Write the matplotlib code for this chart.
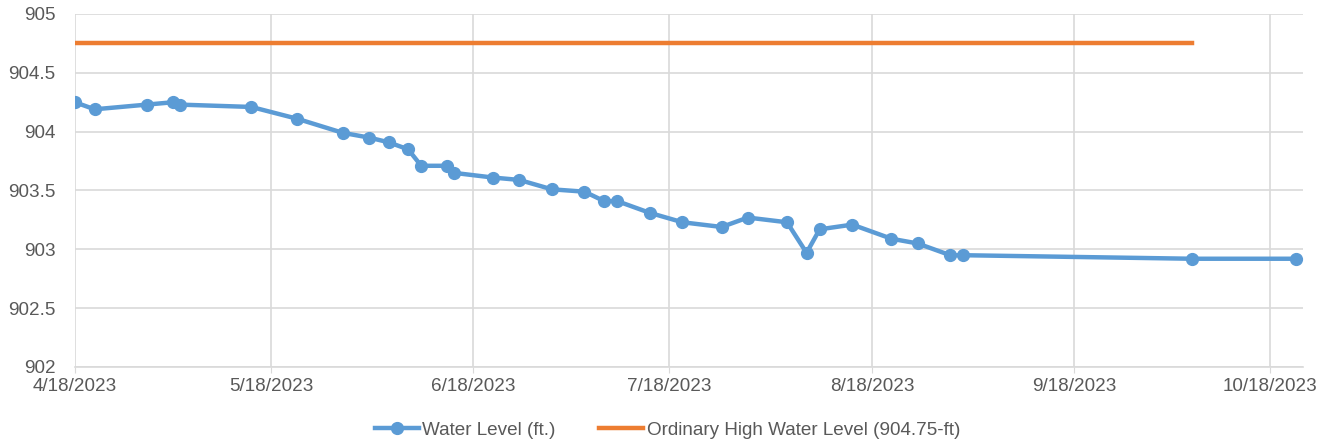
import numpy as np
import matplotlib
matplotlib.use("Agg")
import matplotlib.pyplot as plt
import matplotlib.dates as mdates
from matplotlib.ticker import FuncFormatter, MultipleLocator
from datetime import datetime

# water level readings
dates = ["2023-04-18", "2023-04-21", "2023-04-29", "2023-05-03", "2023-05-04",
         "2023-05-15", "2023-05-22", "2023-05-29", "2023-06-02", "2023-06-05",
         "2023-06-08", "2023-06-10", "2023-06-14", "2023-06-15", "2023-06-21",
         "2023-06-25", "2023-06-30", "2023-07-05", "2023-07-08", "2023-07-10",
         "2023-07-15", "2023-07-20", "2023-07-26", "2023-07-30", "2023-08-05",
         "2023-08-08", "2023-08-10", "2023-08-15", "2023-08-21", "2023-08-25",
         "2023-08-30", "2023-09-01", "2023-10-06", "2023-10-22"]
levels = [904.25, 904.19, 904.23, 904.25, 904.23,
          904.21, 904.11, 903.99, 903.95, 903.91,
          903.85, 903.71, 903.71, 903.65, 903.61,
          903.59, 903.51, 903.49, 903.41, 903.41,
          903.31, 903.23, 903.19, 903.27, 903.23,
          902.97, 903.17, 903.21, 903.09, 903.05,
          902.95, 902.95, 902.92, 902.92]

ohw_dates = ["2023-04-18", "2023-10-06"]
ohw_level = [904.75, 904.75]

tick_dates = ["2023-04-18", "2023-05-18", "2023-06-18", "2023-07-18",
              "2023-08-18", "2023-09-18", "2023-10-18"]

to_dt = lambda lst: [datetime.strptime(d, "%Y-%m-%d") for d in lst]

plt.rcParams['font.family'] = ['Liberation Sans', 'DejaVu Sans']
txt = "#595959"
grid = "#d9d9d9"
fs = 13.6

fig = plt.figure(figsize=(13.35, 4.45), dpi=100)
ax = fig.add_axes([75 / 1335, 1 - 367 / 445, (1303 - 75) / 1335, (367 - 14) / 445])

ax.plot(to_dt(dates), levels, color="#5B9BD5", lw=3.2, marker="o", ms=8.5,
        label="Water Level (ft.)", zorder=3)
ax.plot(to_dt(ohw_dates), ohw_level, color="#ED7D31", lw=3.2,
        label="Ordinary High Water Level (904.75-ft)", zorder=3)

ax.set_xlim(datetime(2023, 4, 18), datetime(2023, 10, 23))
ax.set_ylim(902, 905)
ax.yaxis.set_major_locator(MultipleLocator(0.5))
ax.yaxis.set_major_formatter(FuncFormatter(lambda v, p: f"{v:g}"))
ax.set_xticks(to_dt(tick_dates))
ax.xaxis.set_major_formatter(FuncFormatter(
    lambda v, p: (lambda d: f"{d.month}/{d.day}/{d.year}")(mdates.num2date(v))))

ax.grid(True, color=grid, lw=1.2)
ax.set_axisbelow(True)
for s in ["top", "right", "left"]:
    ax.spines[s].set_visible(False)
ax.spines["bottom"].set_color(grid)
ax.spines["bottom"].set_linewidth(1.2)
ax.tick_params(axis="y", length=0, labelsize=fs, labelcolor=txt, pad=14)
ax.tick_params(axis="x", length=4, color=grid, labelsize=fs, labelcolor=txt, pad=4)

leg = fig.legend(loc="center", bbox_to_anchor=(0.5, 1 - 430 / 445), ncol=2,
                 frameon=False, fontsize=fs, handlelength=2.33,
                 columnspacing=2.3, handletextpad=0.2)
for t in leg.get_texts():
    t.set_color(txt)

fig.savefig("out.png", dpi=100)
